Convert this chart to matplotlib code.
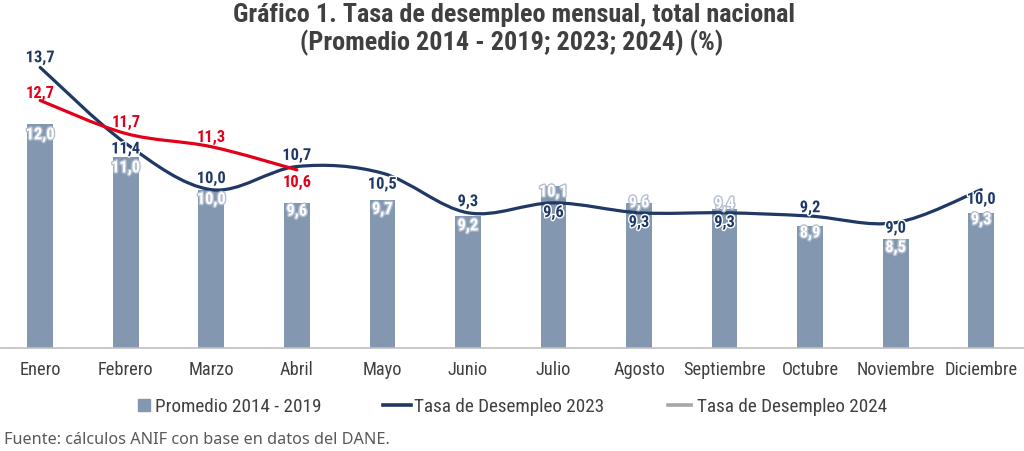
import numpy as np
import matplotlib
matplotlib.use('Agg')
import matplotlib.pyplot as plt
import matplotlib.patheffects as pe
from matplotlib.path import Path
from matplotlib.patches import PathPatch
from matplotlib.lines import Line2D

meses = ['Enero', 'Febrero', 'Marzo', 'Abril', 'Mayo', 'Junio', 'Julio',
         'Agosto', 'Septiembre', 'Octubre', 'Noviembre', 'Diciembre']
promedio = [12.0, 11.0, 10.0, 9.6, 9.7, 9.2, 10.1, 9.6, 9.4, 8.9, 8.5, 9.3]
tasa_2023 = [13.7, 11.4, 10.0, 10.7, 10.5, 9.3, 9.6, 9.3, 9.3, 9.2, 9.0, 10.0]
tasa_2024 = [12.7, 11.7, 11.3, 10.6]

# label offsets (points, vertical)
off_bar = [-8, -8, -7, -6, -7, -7, -4, 0, 4, -5, -6, -5]
off_23 = [7, -4, 8, 8, -8, 8, -7, -7, -7, 6, -4, -7]
off_24 = [5, 8, 7, -9]

c_bar = '#8497B0'
c_23 = '#1F3864'
c_24 = '#E2001A'
c_txt = '#404040'

plt.rcParams['font.family'] = ['Roboto Condensed', 'Liberation Sans Narrow',
                               'Roboto', 'DejaVu Sans']


def smooth_path(ys):
    # excel-like smoothed line, bezier control points from neighbours
    pts = np.column_stack([np.arange(len(ys)), ys]).astype(float)
    verts = [pts[0]]
    codes = [Path.MOVETO]
    n = len(pts)
    for i in range(n - 1):
        p0 = pts[max(i - 1, 0)]
        p1 = pts[i]
        p2 = pts[i + 1]
        p3 = pts[min(i + 2, n - 1)]
        verts += [p1 + (p2 - p0) / 6, p2 - (p3 - p1) / 6, p2]
        codes += [Path.CURVE4] * 3
    return Path(verts, codes)


fig = plt.figure(figsize=(10.24, 4.51), dpi=100)
ax = fig.add_axes([0.0, 0.228, 1.0, 0.681])

x = np.arange(len(meses))
ax.bar(x, promedio, width=0.30, color=c_bar, zorder=2)
ax.add_patch(PathPatch(smooth_path(tasa_2023), fc='none', ec=c_23, lw=2.3,
                       capstyle='round', zorder=3))
ax.add_patch(PathPatch(smooth_path(tasa_2024), fc='none', ec=c_24, lw=2.3,
                       capstyle='round', zorder=4))

lab_kw = dict(ha='center', va='center', fontsize=11.8, fontweight='bold',
              textcoords='offset points')
for i, v in enumerate(promedio):
    ax.annotate(f'{v:.1f}'.replace('.', ','), (i, v), xytext=(0, off_bar[i]),
                color='white', zorder=5,
                path_effects=[pe.withStroke(linewidth=2, foreground='#B4C0D2')],
                **lab_kw)
for i, v in enumerate(tasa_2023):
    ax.annotate(f'{v:.1f}'.replace('.', ','), (i, v), xytext=(0, off_23[i]),
                color=c_23, zorder=6,
                path_effects=[pe.withStroke(linewidth=2, foreground='white')],
                **lab_kw)
for i, v in enumerate(tasa_2024):
    ax.annotate(f'{v:.1f}'.replace('.', ','), (i, v), xytext=(0, off_24[i]),
                color=c_24, zorder=6, **lab_kw)

ax.set_xlim(-0.47, 11.5)
ax.set_ylim(5.2, 14.5)
ax.set_xticks(x)
ax.set_xticklabels(meses, fontsize=13.2, color=c_txt)
ax.tick_params(axis='x', length=0, pad=9)
ax.set_yticks([])
for s in ['top', 'left', 'right']:
    ax.spines[s].set_visible(False)
ax.spines['bottom'].set_color('#BFBFBF')
ax.spines['bottom'].set_linewidth(1.2)

fig.text(0.5015, 0.966, 'Gráfico 1. Tasa de desempleo mensual, total nacional',
         ha='center', va='center', fontsize=18.9, fontweight='bold', color=c_txt)
fig.text(0.5, 0.905, '(Promedio 2014 - 2019; 2023; 2024) (%)',
         ha='center', va='center', fontsize=18.9, fontweight='bold', color=c_txt)

# legend, one entry per box so each sits where the reference has it
entradas = [
    (Line2D([], [], ls='none', marker='s', ms=9, color=c_bar),
     'Promedio 2014 - 2019', 137, 0.75, 0.2),
    (Line2D([], [], color=c_23, lw=2.6), 'Tasa de Desempleo 2023', 383, 1.45, 0.15),
    (Line2D([], [], color='#A6A6A6', lw=2.6), 'Tasa de Desempleo 2024', 668, 1.2, 0.3),
]
for h, txt, x0, hl, tp in entradas:
    fig.legend([h], [txt], loc='center left', bbox_to_anchor=(x0 / 1024, 0.098),
               frameon=False, borderpad=0, borderaxespad=0, fontsize=13.8,
               handlelength=hl, handletextpad=tp, labelcolor=c_txt)

fig.text(0.004, 0.025, 'Fuente: cálculos ANIF con base en datos del DANE.',
         ha='left', va='center', fontsize=11.7, color='#595959',
         family=['Noto Sans', 'DejaVu Sans'])

fig.savefig('out.png', dpi=100)
